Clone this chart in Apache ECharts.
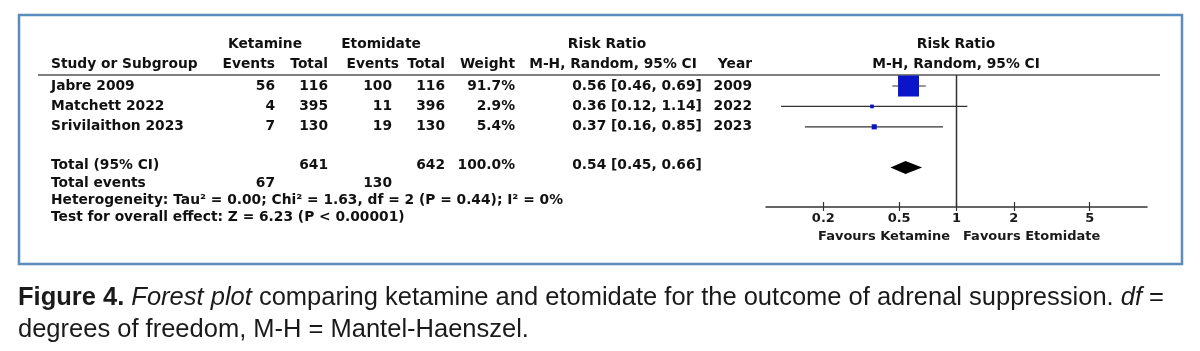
<!DOCTYPE html>
<html>
<head>
<meta charset="utf-8">
<title>Forest plot - ketamine vs etomidate</title>
<script src="https://cdn.jsdelivr.net/npm/echarts@6.0.0/dist/echarts.min.js"></script>
<style>
  html, body { margin: 0; padding: 0; background: #fff; }
  #main { width: 1200px; height: 351px; }
</style>
</head>
<body>
<div id="main"></div>
<script>
// 数据
var studies   = ['Jabre 2009', 'Matchett 2022', 'Srivilaithon 2023'];
var ketEvents = [56, 4, 7];
var ketTotal  = [116, 395, 130];
var etoEvents = [100, 11, 19];
var etoTotal  = [116, 396, 130];
var weights   = [91.7, 2.9, 5.4];
var rr        = [0.56, 0.36, 0.37];
var ciLow     = [0.46, 0.12, 0.16];
var ciHigh    = [0.69, 1.14, 0.85];
var years     = [2009, 2022, 2023];
var pooled    = [0.54, 0.45, 0.66];   // RR, low, high
var totalN    = [641, 642];
var totalEv   = [67, 130];
var tickValues = [0.2, 0.5, 1, 2, 5];
var heteroText = 'Heterogeneity: Tau² = 0.00; Chi² = 1.63, df = 2 (P = 0.44); I² = 0%';
var overallText = 'Test for overall effect: Z = 6.23 (P < 0.00001)';

var FONT = 'DejaVu Sans';
var FS = 13.8;
var CAP_FONT = 'Liberation Sans';
var CAP_FS = 25.5;

// 列位置 / 行位置
var col = { study: 51, ketEv: 275, ketN: 328, etoEv: 392, etoEvHead: 399, etoN: 445, weight: 515, ci: 637, ciHead: 613, year: 752, plot: 956 };
var row = { group: -2.05, head: -1.05, total: 3.87, events: 4.75, het: 5.6, test: 6.42 };
var yMin = -0.54, yMax = 5.93;

var cells = [];
function cell(x, r, text, align) {
  cells.push({ x: x, r: r, text: String(text), align: align });
}

// 表头
cell(265, row.group, 'Ketamine', 'center');
cell(381, row.group, 'Etomidate', 'center');
cell(607, row.group, 'Risk Ratio', 'center');
cell(col.plot, row.group, 'Risk Ratio', 'center');
cell(col.study, row.head, 'Study or Subgroup', 'left');
cell(col.ketEv, row.head, 'Events', 'right');
cell(col.ketN, row.head, 'Total', 'right');
cell(col.etoEvHead, row.head, 'Events', 'right');
cell(col.etoN, row.head, 'Total', 'right');
cell(col.weight, row.head, 'Weight', 'right');
cell(col.ciHead, row.head, 'M-H, Random, 95% CI', 'center');
cell(col.year, row.head, 'Year', 'right');
cell(col.plot, row.head, 'M-H, Random, 95% CI', 'center');

function ciText(a, b, c) {
  return a.toFixed(2) + ' [' + b.toFixed(2) + ', ' + c.toFixed(2) + ']';
}

for (var i = 0; i < studies.length; i++) {
  cell(col.study, i, studies[i], 'left');
  cell(col.ketEv, i, ketEvents[i], 'right');
  cell(col.ketN, i, ketTotal[i], 'right');
  cell(col.etoEv, i, etoEvents[i], 'right');
  cell(col.etoN, i, etoTotal[i], 'right');
  cell(col.weight, i, weights[i].toFixed(1) + '%', 'right');
  cell(col.ci, i, ciText(rr[i], ciLow[i], ciHigh[i]), 'center');
  cell(col.year, i, years[i], 'right');
}

var wSum = weights.reduce(function (a, b) { return a + b; }, 0);
cell(col.study, row.total, 'Total (95% CI)', 'left');
cell(col.ketN, row.total, totalN[0], 'right');
cell(col.etoN, row.total, totalN[1], 'right');
cell(col.weight, row.total, wSum.toFixed(1) + '%', 'right');
cell(col.ci, row.total, ciText(pooled[0], pooled[1], pooled[2]), 'center');
cell(col.study, row.events, 'Total events', 'left');
cell(col.ketEv, row.events, totalEv[0], 'right');
cell(col.etoEv, row.events, totalEv[1], 'right');
cell(col.study, row.het, heteroText, 'left');
cell(col.study, row.test, overallText, 'left');

var maxW = Math.max.apply(null, weights);
var studyData = studies.map(function (s, i) {
  return [rr[i], ciLow[i], ciHigh[i], i, weights[i]];
});

var myChart = echarts.init(document.getElementById('main'), null, { renderer: 'canvas' });

var option = {
  backgroundColor: '#fff',
  animation: false,
  grid: [
    { left: 766, width: 381, top: 75, height: 132, outerBoundsMode: 'none' },
    { left: 0, width: 1200, top: 75, height: 132, outerBoundsMode: 'none' }
  ],
  xAxis: [
    {
      gridIndex: 0, type: 'log', logBase: 10, min: 0.1, max: 10, position: 'bottom',
      axisLine: { show: true, onZero: false, lineStyle: { color: '#333', width: 1.5 } },
      axisTick: { show: true, inside: true, length: 5, customValues: tickValues, lineStyle: { color: '#333', width: 1.2 } },
      axisLabel: {
        show: true, customValues: tickValues, margin: 5,
        fontFamily: FONT, fontSize: 13, fontWeight: 'bold', color: '#1a1a1a',
        formatter: function (v) { return String(+v.toFixed(1)); }
      },
      splitLine: { show: false }, minorTick: { show: false }
    },
    {
      gridIndex: 0, type: 'log', logBase: 10, min: 0.1, max: 10, position: 'bottom', offset: 0,
      axisLine: { show: false, onZero: false },
      axisTick: { show: true, inside: false, length: 4, customValues: tickValues, lineStyle: { color: '#333', width: 1.2 } },
      axisLabel: { show: false },
      splitLine: { show: false }
    },
    { gridIndex: 1, type: 'value', min: 0, max: 1200, show: false }
  ],
  yAxis: [
    { gridIndex: 0, type: 'value', min: yMin, max: yMax, inverse: true, show: false },
    { gridIndex: 1, type: 'value', min: yMin, max: yMax, inverse: true, show: false }
  ],
  graphic: [
    { type: 'rect', shape: { x: 19, y: 15, width: 1163, height: 249 }, style: { fill: 'none', stroke: '#5a8dbd', lineWidth: 2.5 }, z: 1 },
    { type: 'line', shape: { x1: 38, y1: 75, x2: 1160, y2: 75 }, style: { stroke: '#555', lineWidth: 1.5 }, z: 2 },
    { type: 'text', x: 950, y: 237, style: { text: 'Favours Ketamine', align: 'right', verticalAlign: 'middle', fontFamily: FONT, fontSize: 13, fontWeight: 'bold', fill: '#1a1a1a' } },
    { type: 'text', x: 963, y: 237, style: { text: 'Favours Etomidate', align: 'left', verticalAlign: 'middle', fontFamily: FONT, fontSize: 13, fontWeight: 'bold', fill: '#1a1a1a' } },
    {
      type: 'text', x: 18, y: 298,
      style: {
        text: '{b|Figure 4.} {i|Forest plot} comparing ketamine and etomidate for the outcome of adrenal suppression. {i|df} =',
        verticalAlign: 'middle', fontFamily: CAP_FONT, fontSize: CAP_FS, fill: '#1a1a1a',
        rich: {
          b: { fontFamily: CAP_FONT, fontSize: CAP_FS, fontWeight: 'bold', fill: '#1a1a1a' },
          i: { fontFamily: CAP_FONT, fontSize: CAP_FS, fontStyle: 'italic', fill: '#1a1a1a' }
        }
      }
    },
    {
      type: 'text', x: 18, y: 330,
      style: { text: 'degrees of freedom, M-H = Mantel-Haenszel.', verticalAlign: 'middle', fontFamily: CAP_FONT, fontSize: CAP_FS, fill: '#1a1a1a' }
    }
  ],
  series: [
    {
      // 无效线 RR = 1
      type: 'custom', name: 'null', xAxisIndex: 0, yAxisIndex: 0,
      data: [[1, yMin, yMax]],
      renderItem: function (params, api) {
        var a = api.coord([api.value(0), api.value(1)]);
        var b = api.coord([api.value(0), api.value(2)]);
        return { type: 'line', shape: { x1: a[0], y1: a[1], x2: b[0], y2: b[1] }, style: { stroke: '#333', lineWidth: 1.5 } };
      }
    },
    {
      type: 'custom', name: 'studies', xAxisIndex: 0, yAxisIndex: 0,
      encode: { x: [0, 1, 2], y: 3 },
      data: studyData,
      renderItem: function (params, api) {
        var y = api.value(3);
        var p0 = api.coord([api.value(1), y]);
        var p1 = api.coord([api.value(2), y]);
        var c = api.coord([api.value(0), y]);
        var side = Math.max(2, 21 * Math.sqrt(api.value(4) / maxW));
        return {
          type: 'group',
          children: [
            { type: 'line', shape: { x1: p0[0], y1: p0[1], x2: p1[0], y2: p1[1] }, style: { stroke: '#333', lineWidth: 1.2 } },
            { type: 'rect', shape: { x: c[0] - side / 2, y: c[1] - side / 2, width: side, height: side }, style: { fill: '#0a14c8' } }
          ]
        };
      }
    },
    {
      type: 'custom', name: 'pooled', xAxisIndex: 0, yAxisIndex: 0,
      encode: { x: [0, 1, 2], y: 3 },
      data: [[pooled[0], pooled[1], pooled[2], 4]],
      renderItem: function (params, api) {
        var y = api.value(3);
        var l = api.coord([api.value(1), y]);
        var r = api.coord([api.value(2), y]);
        var m = api.coord([api.value(0), y]);
        var h = 6.5;
        return {
          type: 'polygon',
          shape: { points: [[l[0], m[1]], [m[0], m[1] - h], [r[0], m[1]], [m[0], m[1] + h]] },
          style: { fill: '#000' }
        };
      }
    },
    {
      type: 'custom', name: 'table', xAxisIndex: 2, yAxisIndex: 1,
      data: cells.map(function (c, i) { return [c.x, c.r, i]; }),
      renderItem: function (params, api) {
        var c = cells[api.value(2)];
        var p = api.coord([api.value(0), api.value(1)]);
        return {
          type: 'text', x: p[0], y: p[1],
          style: {
            text: c.text, align: c.align, verticalAlign: 'middle',
            fontFamily: FONT, fontSize: FS, fontWeight: 'bold', fill: '#111'
          }
        };
      }
    }
  ]
};

myChart.setOption(option);
</script>
</body>
</html>
